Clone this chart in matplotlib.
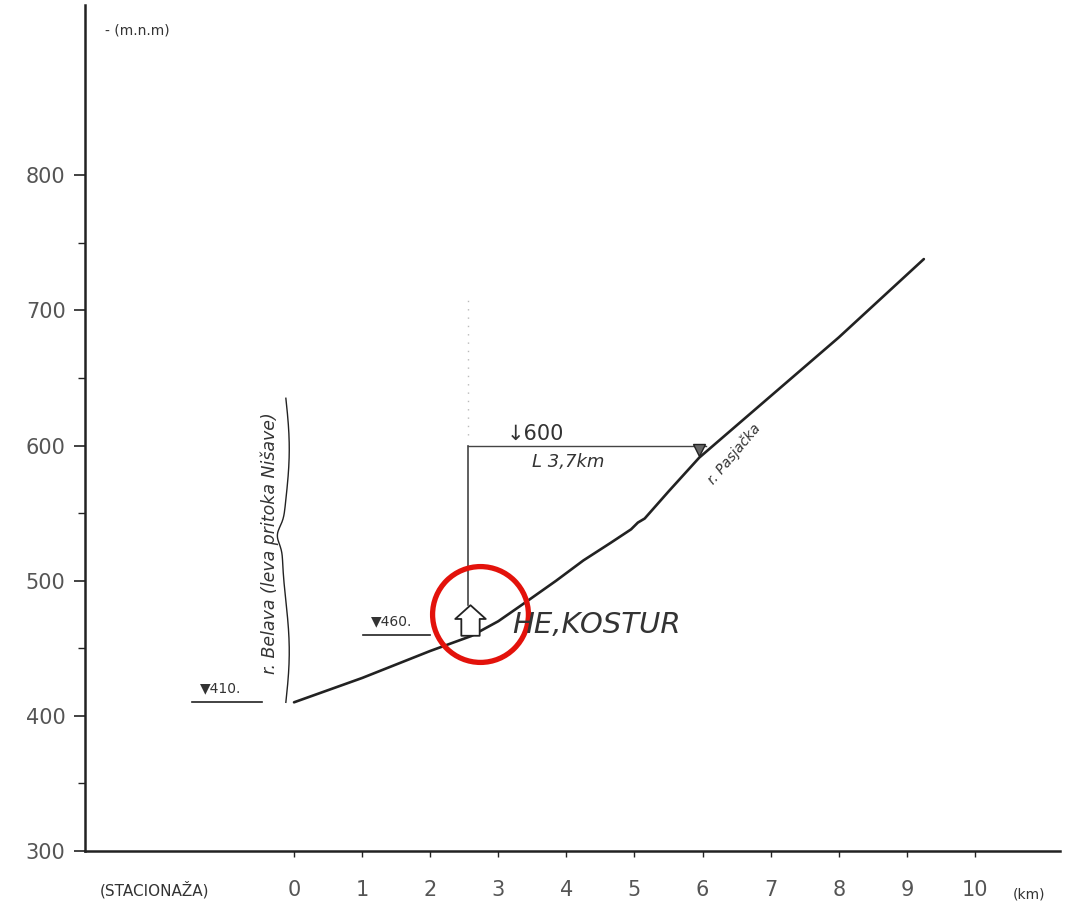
"""
Uzdužni profil vodotoka sa HE Kostur (ručno crtani profil, rekonstrukcija).
Izlaz: out.png
"""

import matplotlib.pyplot as plt
import numpy as np
from matplotlib.path import Path

# stacionaža (km) i kota dna (m.n.m) duž toka
profile_km = [0.0, 1.0, 2.0, 2.6, 3.0, 3.4, 3.85, 4.25, 4.65, 4.95, 5.05, 5.15, 5.5, 5.95, 8.0, 9.25]
profile_elev = [410, 428, 448, 459, 470, 484, 500, 515, 528, 538, 543, 546, 566, 591, 680, 738]

x_ticks = [0, 1, 2, 3, 4, 5, 6, 7, 8, 9, 10]
y_ticks = [300, 400, 500, 600, 700, 800]
y_minor = [350, 450, 550, 650, 750]

START_KM, START_ELEV = 0.0, 410      # ušće
HE_KM, HE_ELEV = 2.55, 460           # HE Kostur (kota 460)
INTAKE_ELEV = 600                    # vodozahvat na koti 600
INTAKE_KM = 6.05                     # r. Pasjačka
DERIVATION = "L 3,7km"

INK = "#222222"
GREY = "#555555"

fig = plt.figure(figsize=(10.8, 9.11), dpi=100)
ax = fig.add_axes([0.0787, 0.0659, 0.9028, 0.9286])
ax.set_xlim(-3.07, 11.25)
ax.set_ylim(300, 926)

for s in ["top", "right"]:
    ax.spines[s].set_visible(False)
ax.spines["left"].set_linewidth(1.8)
ax.spines["bottom"].set_linewidth(1.8)
ax.spines["left"].set_color(INK)
ax.spines["bottom"].set_color(INK)

ax.set_yticks(y_ticks)
ax.set_yticks(y_minor, minor=True)
ax.set_xticks(x_ticks)
ax.tick_params(axis="y", which="major", length=8, width=1.2, pad=6,
               labelsize=15, labelcolor=GREY, color=INK)
ax.tick_params(axis="y", which="minor", length=5, width=1.0, color=INK)
ax.tick_params(axis="x", which="major", length=4, width=1.0, pad=17,
               labelsize=15, labelcolor=GREY, color=INK)

# profil dna
ax.plot(profile_km, profile_elev, color=INK, lw=1.9, solid_capstyle="round",
        solid_joinstyle="round")

# derivacija: horizontala na koti 600 i vertikala do HE
ax.plot([HE_KM, INTAKE_KM], [INTAKE_ELEV, INTAKE_ELEV], color="#444444", lw=1.0)
ax.plot([HE_KM, HE_KM], [INTAKE_ELEV, HE_ELEV + 22], color="#444444", lw=1.2)
ax.plot([HE_KM, HE_KM], [INTAKE_ELEV + 8, INTAKE_ELEV + 110], color="#bbbbbb",
        lw=1.0, ls=(0, (1, 5)))
ax.text(HE_KM + 0.58, INTAKE_ELEV + 1, "↓600", fontsize=15, color="#333333",
        ha="left", va="bottom")
ax.text(HE_KM + 0.95, INTAKE_ELEV - 12, DERIVATION, fontsize=13, color="#333333",
        ha="left", va="center", style="italic")

# zahvat na r. Pasjačkoj
ax.plot([INTAKE_KM - 0.1], [INTAKE_ELEV - 3], marker="v", ms=8,
        color="#666666", mec=INK)
ax.text(INTAKE_KM + 0.42, INTAKE_ELEV - 6, "r. Pasjačka", fontsize=10,
        color="#333333", rotation=50, ha="center", va="center", style="italic")

# simbol HE (strelica/kućica)
house = Path([(-0.3, -0.5), (-0.3, 0.05), (-0.5, 0.05), (0.0, 0.5),
              (0.5, 0.05), (0.3, 0.05), (0.3, -0.5), (-0.3, -0.5)],
             [Path.MOVETO] + [Path.LINETO] * 6 + [Path.CLOSEPOLY])
ax.plot([HE_KM + 0.03], [HE_ELEV + 11], marker=house, ms=22, mfc="white",
        mec=INK, mew=1.3)
ax.plot([HE_KM + 0.18], [HE_ELEV + 15], marker="o", ms=69, mfc="none",
        mec="#e3120b", mew=3.8)
ax.text(HE_KM + 0.65, HE_ELEV + 7, "HE,KOSTUR", fontsize=21, color="#333333",
        ha="left", va="center", style="italic")

# kote nivoa
for km0, km1, elev, label in [(-1.5, -0.47, START_ELEV, "▼410."),
                              (1.01, 2.0, HE_ELEV, "▼460.")]:
    ax.plot([km0, km1], [elev, elev], color=INK, lw=1.2)
    ax.text(km0 + 0.12, elev + 5, label, fontsize=10, color="#333333",
            ha="left", va="bottom")

# vitičasta zagrada i naziv vodotoka
t = np.linspace(0, 1, 200)
brace_y = START_ELEV + t * 225
brace_x = START_KM - 0.12 + 0.05 * np.sin(t * 3 * np.pi) - 0.08 * np.exp(-((t - 0.55) / 0.04) ** 2)
ax.plot(brace_x, brace_y, color=INK, lw=1.0)
ax.text(START_KM - 0.35, START_ELEV + 118, "r. Belava (leva pritoka Nišave)",
        fontsize=12.5, color="#333333", rotation=90, ha="center", va="center",
        style="italic")

# natpisi osa
ax.text(-2.3, 907, "- (m.n.m)", fontsize=10, color="#333333", ha="center",
        va="center")
ax.text(-2.05, -0.046, "(STACIONAŽA)", fontsize=11, color="#333333",
        ha="center", va="center", transform=ax.get_xaxis_transform(),
        clip_on=False)
ax.text(10.8, -0.052, "(km)", fontsize=10, color="#333333", ha="center",
        va="center", transform=ax.get_xaxis_transform(), clip_on=False)

fig.savefig("out.png", dpi=100)
plt.close(fig)
